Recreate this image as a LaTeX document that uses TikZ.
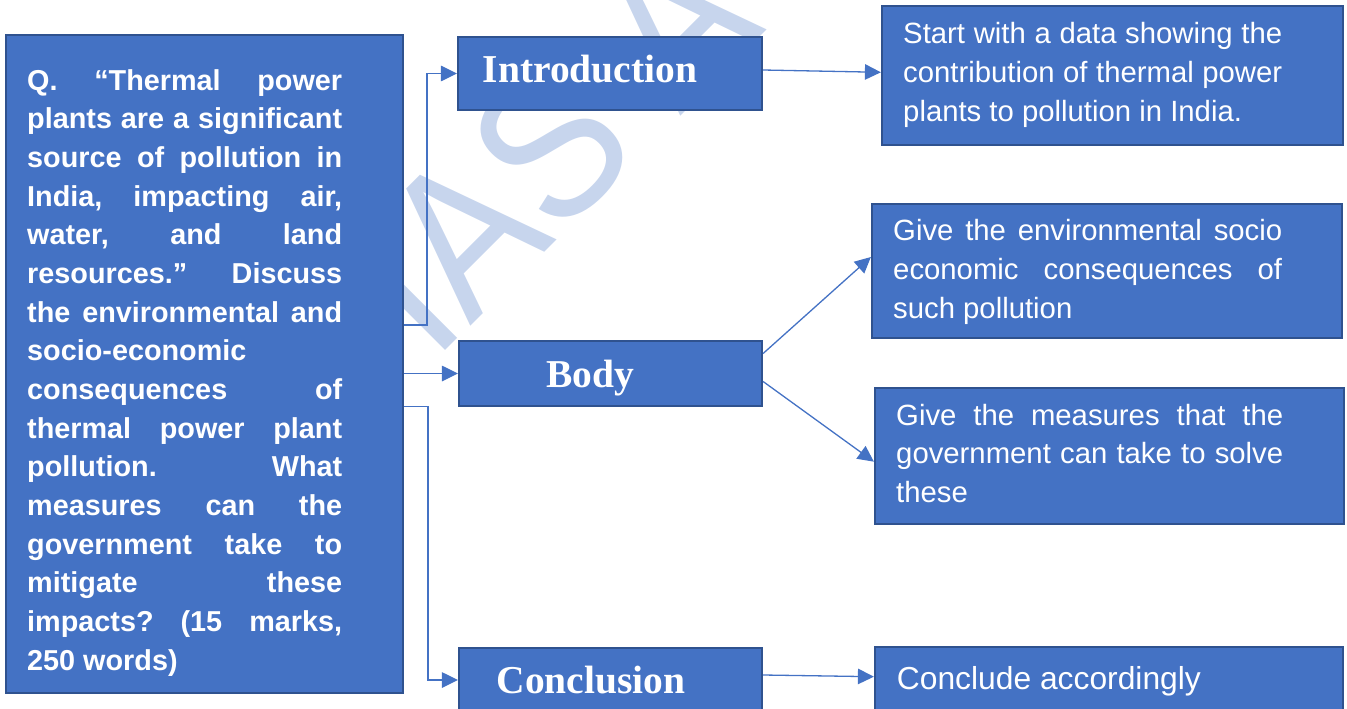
\documentclass[tikz,border=0pt]{standalone}
\usepackage{fontspec}
\setmainfont{Liberation Sans}
\newfontfamily\labelfont{Liberation Serif}
\usetikzlibrary{arrows.meta}
\definecolor{boxblue}{HTML}{4472C4}
\definecolor{rimblue}{HTML}{2F528F}
\definecolor{markblue}{HTML}{C7D5ED}
\hbadness=10000

\begin{document}
\begin{tikzpicture}[x=1pt,y=-1pt,
    block/.style={draw=rimblue,fill=boxblue,line width=2.2pt,inner sep=0pt},
    para/.style={text=white,inner sep=0pt,anchor=base west,align=justify,
      font=\fontsize{29.3}{38.8}\selectfont},
    stage/.style={text=white,inner sep=0pt,anchor=base,
      font=\labelfont\bfseries\fontsize{39.5}{40}\selectfont},
    link/.style={draw=boxblue,line width=1.3pt,-{Triangle[length=16pt,width=15.5pt]}}]
    \useasboundingbox (0,0) rectangle (1347,709);
    \clip (0,0) rectangle (1347,709);
    \node[anchor=base west,inner sep=0pt,rotate=45,xscale=0.89,text=markblue,
      font=\fontsize{207}{207}\selectfont] (mark) at (433.8,362.9) {IAS A};

    \node[block,minimum width=397pt,minimum height=658pt] (question) at (204.5,364) {};
    \node[block,minimum width=304pt,minimum height=73pt] (intro) at (610,73.5) {};
    \node[block,minimum width=303pt,minimum height=65pt] (body) at (610.5,373.5) {};
    \node[block,minimum width=303pt,minimum height=71pt] (concl) at (610.5,683.5) {};
    \node[block,minimum width=461pt,minimum height=139pt] (start) at (1112.5,75.5) {};
    \node[block,minimum width=470pt,minimum height=134pt] (effects) at (1107,271) {};
    \node[block,minimum width=469pt,minimum height=136pt] (measures) at (1109.5,456) {};
    \node[block,minimum width=468pt,minimum height=72pt] (final) at (1109,683) {};

    \node[para,text width=315pt,font=\bfseries\fontsize{28.8}{38.67}\selectfont] (qtext) at (27,90)
      {\frenchspacing\tolerance=10000 Q. “Thermal power\linebreak
      plants are a significant\linebreak
      source of pollution in\linebreak
      India, impacting air,\linebreak
      water, and land\linebreak
      resources.” Discuss\linebreak
      the environmental and\linebreak
      socio-economic\linebreak
      consequences of\linebreak
      thermal power plant\linebreak
      pollution. What\linebreak
      measures can the\linebreak
      government take to\linebreak
      mitigate these\linebreak
      impacts? (15 marks,\linebreak
      250 words)};

    \node[stage] (introlabel) at (590,83) {Introduction};
    \node[stage] (bodylabel) at (590.5,387) {Body};
    \node[stage] (concllabel) at (591,693) {Conclusion};

    \node[para,text width=379pt] (starttext) at (903,44)
      {\tolerance=10000 Start with a data showing the\linebreak
      contribution of thermal power\linebreak
      plants to pollution in India.};
    \node[para,text width=389pt] (effectstext) at (893,240.7)
      {\tolerance=10000 Give the environmental socio\linebreak
      economic consequences of\linebreak
      such pollution};
    \node[para,text width=387pt] (measurestext) at (896,425)
      {\tolerance=10000 Give the measures that the\linebreak
      government can take to solve\linebreak
      these};
    \node[para,font=\fontsize{31.8}{38.8}\selectfont] (finaltext) at (896.7,689.3) {Conclude accordingly};

    \draw[link] ([yshift=39pt]question.east) -| ([xshift=-30pt]intro.west) -- (intro.west);
    \draw[link] (question.east |- body.west) -- (body.west);
    \draw[link] ([yshift=-42.7pt]question.east) -| ([xshift=-30pt,yshift=3.5pt]concl.west)
      -- ([yshift=3.5pt]concl.west);
    \draw[link] ([yshift=3.5pt]intro.east) -- ([yshift=3.2pt]start.west);
    \draw[link] ([yshift=20pt]body.east) -- ([yshift=14pt]effects.west);
    \draw[link] ([yshift=-8pt]body.east) -- ([yshift=-5.7pt]measures.west);
    \draw[link] ([yshift=8.5pt]concl.east) -- ([yshift=6.3pt]final.west);
\end{tikzpicture}
\end{document}
